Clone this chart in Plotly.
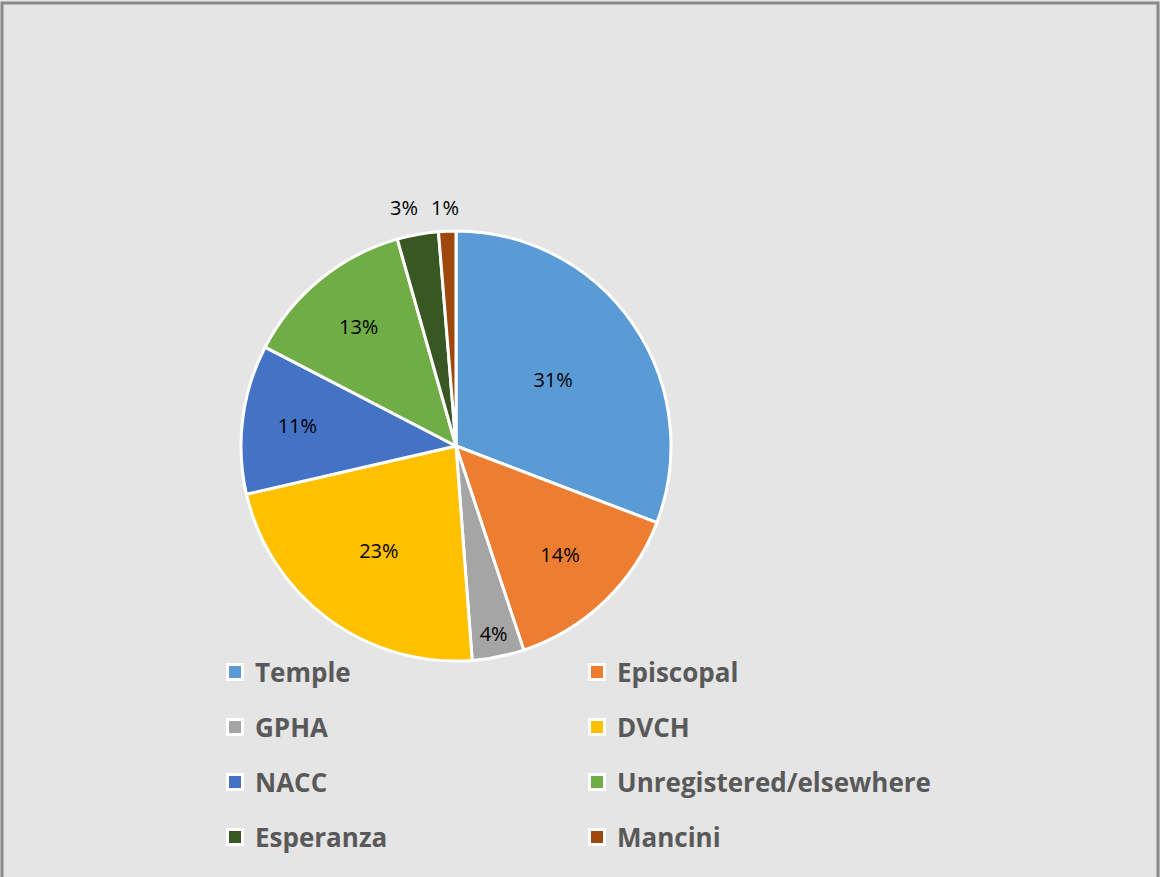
import plotly.graph_objects as go

labels = ["Temple", "Episcopal", "GPHA", "DVCH", "NACC",
          "Unregistered/elsewhere", "Esperanza", "Mancini"]
values = [30.8, 14.1, 3.9, 22.6, 11.2, 13.0, 3.1, 1.3]
colors = ["#5B9BD5", "#ED7D31", "#A5A5A5", "#FFC000", "#4472C4",
          "#70AD47", "#385723", "#9E480E"]
text_pos = ["inside", "inside", "inside", "inside", "inside",
            "inside", "none", "none"]
legend_rows = ["legend", "legend", "legend2", "legend2", "legend3",
               "legend3", "legend4", "legend4"]

W, H = 1160, 877
LABEL_FONT = dict(color="black", size=20, family="Open Sans")
fig = go.Figure()

fig.add_trace(go.Pie(
    labels=labels, values=values, sort=False, direction="clockwise",
    rotation=0,
    marker=dict(colors=colors, line=dict(color="white", width=3)),
    texttemplate="%{percent:.0%}", textposition=text_pos,
    textfont=LABEL_FONT,
    insidetextorientation="horizontal",
    domain=dict(x=[241 / W, 671 / W], y=[1 - 661 / H, 1 - 231 / H]),
    showlegend=False, hoverinfo="label+percent",
))

# small-slice labels placed above the pie, side by side
total = sum(values)
small_idx = [i for i, p in enumerate(text_pos) if p == "none"]
small_x = [404, 445]
annotations = []
for i, px in zip(small_idx, small_x):
    annotations.append(dict(
        text=f"{round(values[i] / total * 100)}%", x=px / W, y=1 - 208 / H,
        xref="paper", yref="paper", showarrow=False,
        xanchor="center", yanchor="middle", font=LABEL_FONT,
    ))

for lab, col, lg in zip(labels, colors, legend_rows):
    fig.add_trace(go.Scatter(
        x=[None], y=[None], mode="markers", name=lab,
        marker=dict(symbol="square", size=15, color=col,
                    line=dict(color="white", width=3)),
        legend=lg, showlegend=True,
    ))

row_y = [672, 727, 782, 837]
leg_common = dict(orientation="h", x=215 / W, xanchor="left", yanchor="middle",
                  bgcolor="rgba(0,0,0,0)", entrywidth=317, entrywidthmode="pixels",
                  font=dict(size=26, color="#595959",
                            family="Open Sans", weight="bold"),
                  itemwidth=30)
layout_legs = {}
for i, name in enumerate(["legend", "legend2", "legend3", "legend4"]):
    d = dict(leg_common)
    d["y"] = 1 - row_y[i] / H
    layout_legs[name] = d

fig.update_layout(
    width=W, height=H,
    margin=dict(l=0, r=0, t=0, b=0),
    paper_bgcolor="#E5E5E5", plot_bgcolor="#E5E5E5",
    xaxis=dict(visible=False), yaxis=dict(visible=False),
    shapes=[dict(type="rect", xref="paper", yref="paper",
                 x0=2 / W, x1=1158 / W, y0=-0.05, y1=1 - 3 / H,
                 line=dict(color="#898989", width=3))],
    annotations=annotations,
    **layout_legs,
)

fig.write_html("out.html", config={"displayModeBar": False},
               post_script="document.body.style.margin='0';document.body.style.overflow='hidden';")
